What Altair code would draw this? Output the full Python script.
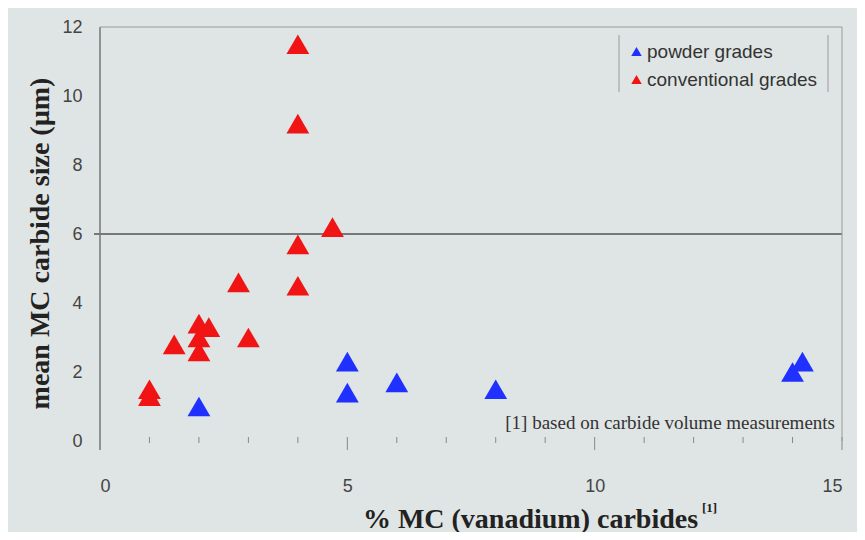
import altair as alt
import pandas as pd

# ---- data ----
powder_x = [2.0, 5.0, 5.0, 6.0, 8.0, 14.0, 14.2]
powder_y = [1.0, 2.3, 1.4, 1.7, 1.5, 2.0, 2.3]
conv_x = [4.0, 4.0, 4.7, 4.0, 2.8, 4.0, 2.0, 2.2, 3.0, 1.5, 2.0, 2.0, 1.0, 1.0]
conv_y = [11.5, 9.2, 6.2, 5.7, 4.6, 4.5, 3.4, 3.3, 3.0, 2.8, 3.0, 2.6, 1.5, 1.3]
series_names = ["powder grades", "conventional grades"]
series_colors = ["#1f30ff", "#f01414"]
minor_ticks = [1, 2, 3, 4, 6, 7, 8, 9, 11, 12, 13, 14]
major_ticks = [5, 10, 15]
ref_line = [6]

W, H = 742, 414

pts = pd.DataFrame({
    "x": powder_x + conv_x,
    "y": powder_y + conv_y,
    "grade": [series_names[0]] * len(powder_x) + [series_names[1]] * len(conv_x),
})

xscale = alt.Scale(domain=[0, 15], nice=False, zero=False)
yscale = alt.Scale(domain=[0, 12], nice=False)

points = alt.Chart(pts).mark_point(shape="triangle-up", filled=True, opacity=1, size=520).encode(
    x=alt.X("x:Q", scale=xscale,
            axis=alt.Axis(values=[0, 5, 10, 15], ticks=False, domain=False, grid=False,
                          labelFontSize=18, labelFont="Liberation Sans", labelColor="#444",
                          labelPadding=36,
                          title="% MC (vanadium) carbides", titleFont="Liberation Serif",
                          titleFontSize=28, titleFontWeight="bold", titleColor="#222",
                          titleX=430, titleY=86, titleBaseline="alphabetic")),
    y=alt.Y("y:Q", scale=yscale,
            axis=alt.Axis(values=[0, 2, 4, 6, 8, 10, 12], ticks=False, domain=False, grid=False,
                          labelFontSize=18, labelFont="Liberation Sans", labelColor="#444",
                          labelPadding=18,
                          title="mean MC carbide size (µm)", titleFont="Liberation Serif",
                          titleFontSize=28, titleFontWeight="bold", titleColor="#222",
                          titleX=-60, titleY=216, titleBaseline="middle", titleAngle=270,
                          titleLimit=500)),
    color=alt.Color("grade:N", scale=alt.Scale(domain=series_names, range=series_colors),
                    legend=alt.Legend(title=None, orient="none", legendX=527, legendY=15,
                                      symbolType="triangle-up", symbolSize=110,
                                      labelFontSize=19, labelFont="Liberation Sans",
                                      labelColor="#333", rowPadding=8, labelOffset=1,
                                      labelLimit=400, symbolStrokeWidth=0)),
)

hline = alt.Chart(pd.DataFrame({"y": ref_line})).mark_rule(color="#555", strokeWidth=1.5).encode(
    y=alt.Y("y:Q", scale=yscale), x=alt.value(-6), x2=alt.value(W)
)

minor = alt.Chart(pd.DataFrame({"x": minor_ticks})).mark_rule(color="#888", strokeWidth=1).encode(
    x=alt.X("x:Q", scale=xscale), y=alt.value(H - 4), y2=alt.value(H + 2)
)
major = alt.Chart(pd.DataFrame({"x": major_ticks})).mark_rule(color="#888", strokeWidth=1).encode(
    x=alt.X("x:Q", scale=xscale), y=alt.value(H - 4), y2=alt.value(H + 9)
)

yaxis_line = alt.Chart(pd.DataFrame({"a": [0]})).mark_rule(color="#777", strokeWidth=1.5).encode(
    x=alt.value(0), y=alt.value(0), y2=alt.value(H + 9)
)
top_line = alt.Chart(pd.DataFrame({"a": [0]})).mark_rule(color="#9a9a9a", strokeWidth=1).encode(
    x=alt.value(0), x2=alt.value(W), y=alt.value(0)
)
right_line = alt.Chart(pd.DataFrame({"a": [0]})).mark_rule(color="#9a9a9a", strokeWidth=1).encode(
    x=alt.value(W), y=alt.value(0), y2=alt.value(H)
)

leg_rules = alt.Chart(pd.DataFrame({"xp": [519, 728]})).mark_rule(color="#999", strokeWidth=1).encode(
    x=alt.X("xp:Q", scale=None), y=alt.value(8), y2=alt.value(65)
)

footnote = alt.Chart(pd.DataFrame({"t": ["[1] based on carbide volume measurements"]})).mark_text(
    align="right", baseline="middle", font="Liberation Serif", fontSize=19, color="#333"
).encode(text="t:N", x=alt.value(735), y=alt.value(396))

sup = alt.Chart(pd.DataFrame({"t": ["[1]"]})).mark_text(
    align="left", baseline="middle", font="Liberation Serif", fontSize=13, fontWeight="bold", color="#222"
).encode(text="t:N", x=alt.value(602), y=alt.value(H + 67))

chart = alt.layer(hline, minor, major, yaxis_line, top_line, right_line, leg_rules,
                  points, footnote, sup).properties(
    width=W, height=H,
    autosize=alt.AutoSizeParams(type="none"),
    padding={"left": 92, "top": 19, "right": 15, "bottom": 91},
).configure(background="#dfe5e4").configure_view(strokeWidth=0)

chart.save("out.html", embed_options={"renderer": "svg", "actions": False})
